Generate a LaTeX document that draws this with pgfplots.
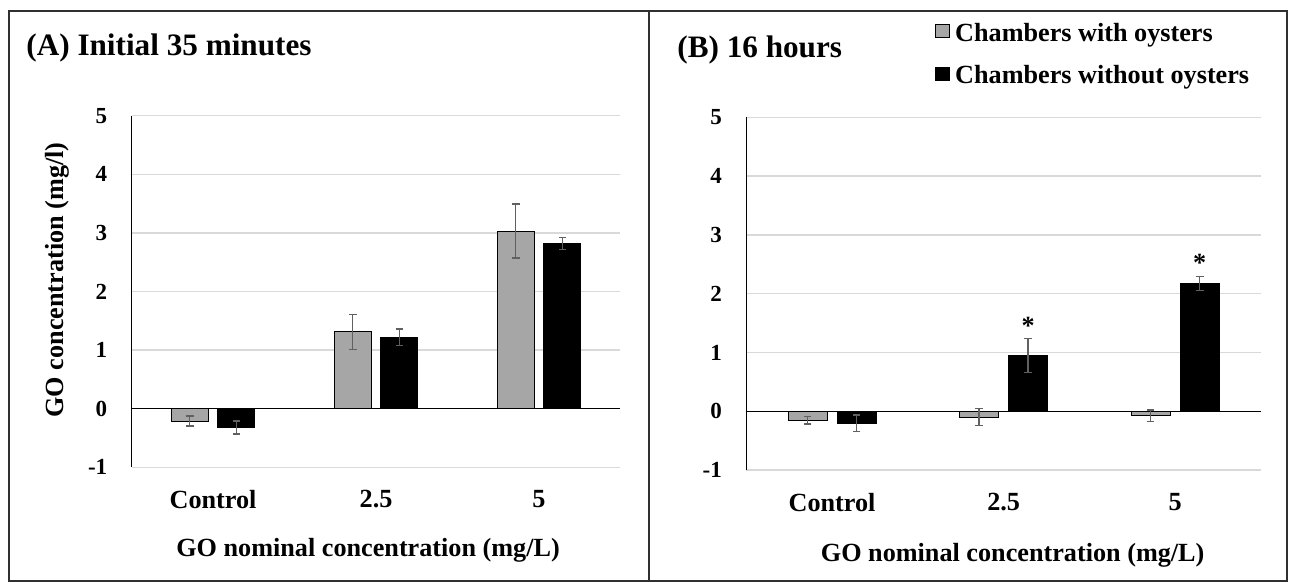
\documentclass[border=0pt]{standalone}
\usepackage{fontspec}
\setmainfont{Liberation Serif}
\usepackage{pgfplots}
\pgfplotsset{compat=1.18}
\usepackage{pgfplotstable}
\definecolor{barGray}{HTML}{A6A6A6}
\definecolor{errGray}{HTML}{606060}
\definecolor{gridGray}{HTML}{D9D9D9}
\definecolor{frameCol}{HTML}{303030}
\newcommand\fTitle{\fontsize{15.6}{18}\selectfont\bfseries}
\newcommand\fLab{\fontsize{13.1}{15}\selectfont\bfseries}
\newcommand\fTick{\fontsize{11.5}{13}\selectfont\bfseries}

% x: bar position (category 0,1,2 shifted by half a bar pitch)
% Panel A: initial 35 minutes
\pgfplotstableread{
x y e
-0.143 -0.21 0.085
0.857 1.31 0.30
1.857 3.03 0.46
}\Awith
\pgfplotstableread{
x y e
0.143 -0.32 0.11
1.143 1.22 0.14
2.143 2.82 0.10
}\Awithout
% Panel B: 16 hours
\pgfplotstableread{
x y e
-0.143 -0.15 0.065
0.857 -0.10 0.145
1.857 -0.075 0.10
}\Bwith
\pgfplotstableread{
x y e
0.143 -0.20 0.14
1.143 0.95 0.29
2.143 2.17 0.12
}\Bwithout

\pgfplotsset{
  panel/.style={
    scale only axis,
    xmin=-0.5, xmax=2.5, ymin=-1, ymax=5,
    xtick={0,1,2}, xticklabels={Control,2.5,5},
    ytick={-1,0,1,2,3,4,5},
    major tick length=0pt,
    axis line style={draw=none},
    ymajorgrids, major grid style={gridGray, line width=0.75pt},
    extra y ticks={0}, extra y tick labels={},
    extra y tick style={grid=major, major grid style={black, line width=0.6pt}},
    extra x ticks={-0.5}, extra x tick labels={},
    extra x tick style={grid=major, major grid style={black, line width=0.6pt}},
    /pgf/number format/assume math mode=true,
    yticklabel style={font=\fTick, anchor=east, inner sep=0pt, xshift=-12pt},
    xticklabel style={font=\fLab, anchor=north, inner sep=0pt, yshift=-11.35pt},
    xlabel={GO nominal concentration (mg/L)},
    xlabel style={at={(axis description cs:0.5,0)}, anchor=base, inner sep=0pt, font=\fLab},
  },
  sbar/.style={ybar, bar width=0.227, bar shift=0pt, draw=black, line width=0.5pt,
    error bars/y dir=both, error bars/y explicit,
    error bars/error bar style={errGray, line width=0.7pt},
    error bars/error mark options={rotate=90, errGray, mark size=1.9pt, line width=0.7pt}},
  wbar/.style={sbar, fill=barGray},
  kbar/.style={sbar, fill=black},
}

\begin{document}
\begin{tikzpicture}
\path[use as bounding box] (0,0) rectangle (645pt,291.5pt);
\draw[frameCol, line width=0.6pt] (4.5pt,286pt) rectangle (324.5pt,1pt);
\draw[frameCol, line width=0.6pt] (324.5pt,286pt) rectangle (643.5pt,1pt);
\node[anchor=base west, inner sep=0pt, font=\fTitle] at (13pt,263.75pt) {(A) Initial 35 minutes};
\node[anchor=base west, inner sep=0pt, font=\fTitle] at (338.5pt,262.5pt) {(B) 16 hours};

\begin{axis}[panel,
  at={(65.8pt,57.85pt)}, anchor=south west,
  width=244.45pt, height=175.8pt,
  xlabel style={xshift=-4pt, yshift=-44.85pt},
  ylabel={GO concentration (mg/l)},
  ylabel style={at={(axis description cs:-0.1526,0.5327)}, anchor=center, font=\fLab},
]
\addplot[wbar] table[x=x, y=y, y error=e] {\Awith};
\addplot[kbar] table[x=x, y=y, y error=e] {\Awithout};
\end{axis}

\begin{axis}[panel,
  at={(373.15pt,56.45pt)}, anchor=south west,
  width=257.35pt, height=176.4pt,
  xlabel style={xshift=4.5pt, yshift=-45.95pt},
  legend style={at={(axis description cs:0.3666,1.268)}, anchor=north west,
    draw=none, fill=none, font=\fLab, inner sep=0pt,
    nodes={inner sep=0pt}, /tikz/column sep=2.5pt, /tikz/row sep=10.6pt},
  legend cell align=left,
  legend image code/.code={\draw[#1,/tikz/.cd, draw=black, line width=0.4pt] (0pt,-1.9pt) rectangle (7pt,4.5pt);},
]
\addplot[wbar] table[x=x, y=y, y error=e] {\Bwith};
\addlegendentry{Chambers with oysters}
\addplot[kbar] table[x=x, y=y, y error=e] {\Bwithout};
\addlegendentry{Chambers without oysters}
\addplot[draw=none, forget plot, nodes near coords={*},
  nodes near coords style={anchor=base, inner sep=0pt, font=\fLab}]
  coordinates {(1.143,1.31) (2.143,2.38)};
\end{axis}
\end{tikzpicture}
\end{document}
